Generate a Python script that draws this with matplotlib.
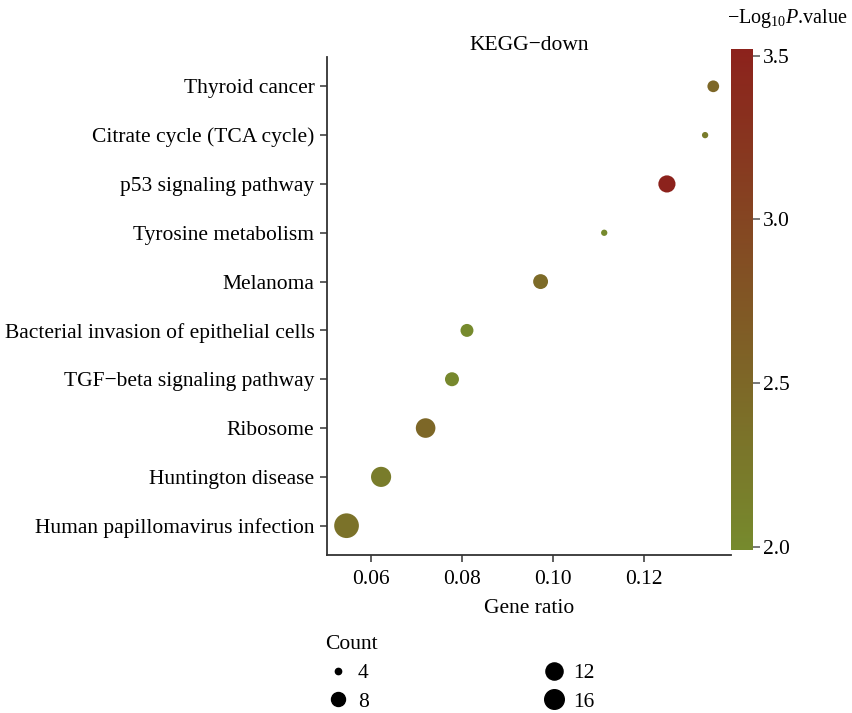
import matplotlib
matplotlib.use("Agg")
import matplotlib.pyplot as plt
from matplotlib.colors import LinearSegmentedColormap, Normalize
from matplotlib.lines import Line2D
import numpy as np

plt.rcParams["font.family"] = ["Liberation Serif", "DejaVu Serif"]
plt.rcParams["mathtext.fontset"] = "custom"
plt.rcParams["mathtext.rm"] = "Liberation Serif"
plt.rcParams["mathtext.it"] = "Liberation Serif:italic"

# data, bottom to top
pathways = ["Human papillomavirus infection", "Huntington disease", "Ribosome",
            "TGF\u2212beta signaling pathway", "Bacterial invasion of epithelial cells",
            "Melanoma", "Tyrosine metabolism", "p53 signaling pathway",
            "Citrate cycle (TCA cycle)", "Thyroid cancer"]
gene_ratio = [0.0546, 0.0622, 0.0720, 0.0778, 0.0811, 0.0973, 0.1113, 0.1251, 0.1335, 0.1353]
count = [27, 17, 16, 8, 7, 9, 4, 12, 4, 6]
neglog_p = [2.35, 2.2, 2.5, 2.03, 2.0, 2.45, 1.99, 3.52, 2.2, 2.5]
legend_counts = [4, 8, 12, 16]

dpi = 100
fs = 15.5
cmin, cmax = min(count), max(count)


def size_of(c):
    # ggplot-like area scale, diameter in px -> points^2
    d = 6.3 + 18.4 * np.sqrt((np.asarray(c, float) - cmin) / (cmax - cmin))
    return (d * 72 / dpi) ** 2


cmap = LinearSegmentedColormap.from_list("gr", ["#768A2D", "#8C221C"])
norm = Normalize(vmin=min(neglog_p), vmax=max(neglog_p))

fig = plt.figure(figsize=(8.53, 7.13), dpi=dpi)
ax = fig.add_axes([327 / 853, 1 - 555 / 713, 404 / 853, 498 / 713])

y = np.arange(len(pathways))
sc = ax.scatter(gene_ratio, y, s=size_of(count), c=neglog_p, cmap=cmap, norm=norm,
                linewidths=0, zorder=3)

ax.set_xlim(0.0503, 0.1392)
ax.set_ylim(-0.6, len(pathways) - 0.4)
ax.set_yticks(y)
ax.set_yticklabels(pathways)
ax.set_xticks([0.06, 0.08, 0.10, 0.12])
ax.set_xticklabels(["0.06", "0.08", "0.10", "0.12"])
ax.set_xlabel("Gene ratio", fontsize=fs, labelpad=7)
ax.set_title("KEGG\u2212down", fontsize=fs, pad=5)

for side in ["top", "right"]:
    ax.spines[side].set_visible(False)
for side in ["left", "bottom"]:
    ax.spines[side].set_color("#333333")
    ax.spines[side].set_linewidth(1.3)
ax.tick_params(axis="both", labelsize=fs, colors="#333333", labelcolor="black",
               length=5, width=1.1, pad=4)
ax.tick_params(axis="x", pad=6)

# colorbar
cax = fig.add_axes([731 / 853, 1 - 550 / 713, 22 / 853, 501 / 713])
cb = fig.colorbar(sc, cax=cax)
cb.outline.set_visible(False)
cb.set_ticks([2.0, 2.5, 3.0, 3.5])
cb.set_ticklabels(["2.0", "2.5", "3.0", "3.5"])
cax.tick_params(labelsize=fs, length=5, width=1.1, colors="#555555", labelcolor="black", pad=2)
fig.text(848 / 853, 1 - 18 / 713, r"$-$Log$_{10}$$\it{P}$.value", fontsize=14.5,
         ha="right", va="center")

# size legend
handles = [Line2D([], [], marker="o", linestyle="", color="black",
                  markersize=np.sqrt(size_of(c))) for c in legend_counts]
leg = fig.legend(handles, [str(c) for c in legend_counts], ncol=2, title="Count",
                 loc="upper left", bbox_to_anchor=(306 / 853, 1 - 616 / 713),
                 frameon=False, fontsize=fs, title_fontsize=fs, columnspacing=8.0,
                 handlelength=1.2, handletextpad=0.3, labelspacing=0.4,
                 alignment="left")

fig.savefig("out.png", dpi=dpi)
